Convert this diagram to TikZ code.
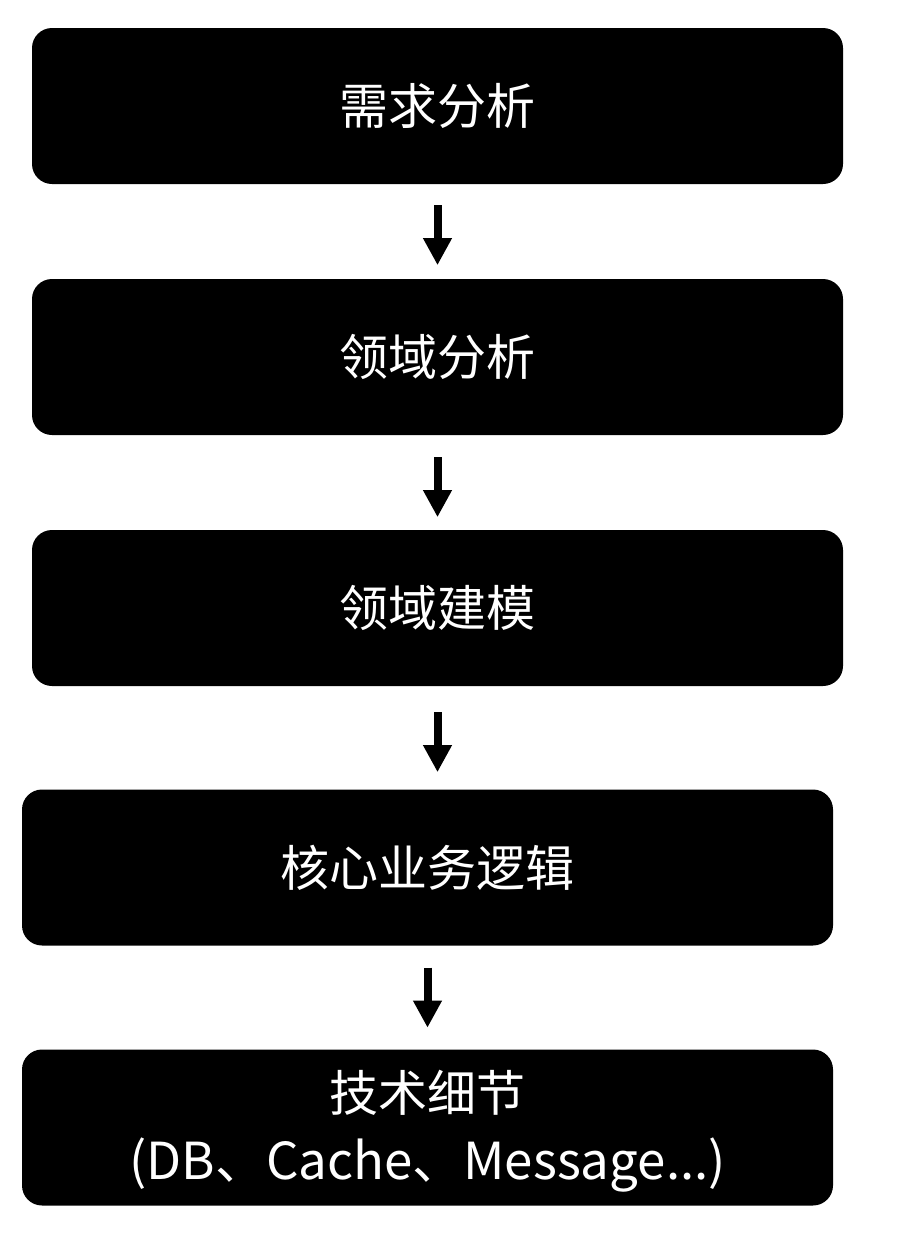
\documentclass[tikz,border=0pt]{standalone}
\usepackage{fontspec}
\setmainfont{Noto Sans CJK SC}
\usetikzlibrary{arrows.meta}
\begin{document}
\begin{tikzpicture}[x=1pt,y=-1pt,
  stagebox/.style={fill=black,rounded corners=20pt,minimum width=811pt,minimum height=156pt,
    text=white,font=\fontsize{49}{68}\selectfont,align=center,inner sep=0pt},
  stagetext/.style={text=white,font=\fontsize{49}{68}\selectfont,align=center,inner sep=0pt},
  flowarrow/.style={line width=8pt,-{Triangle[width=27pt,length=27pt]},shorten <=0pt}]
\useasboundingbox (0,0) rectangle (900,1242);
\node[stagebox] (s1) at (437.5,106) {需求分析};
\node[stagebox] (s2) at (437.5,357) {领域分析};
\node[stagebox] (s3) at (437.5,608) {领域建模};
\node[stagebox] (s4) at (427.5,867.5) {核心业务逻辑};
\node[stagebox] (s5) at (427.5,1127.5) {};
\node[stagetext] (s5t) at ([yshift=-3.5pt]s5.center) {技术细节\\{\fontsize{51}{68}\selectfont (DB、Cache、Message...)}};
\draw[flowarrow] ([yshift=-21pt]s1.south) -- ([yshift=-81pt]s1.south);
\draw[flowarrow] ([yshift=-22pt]s2.south) -- ([yshift=-82pt]s2.south);
\draw[flowarrow] ([yshift=-26pt]s3.south) -- ([yshift=-86pt]s3.south);
\draw[flowarrow] ([yshift=-22pt]s4.south) -- ([yshift=-82pt]s4.south);
\end{tikzpicture}
\end{document}
